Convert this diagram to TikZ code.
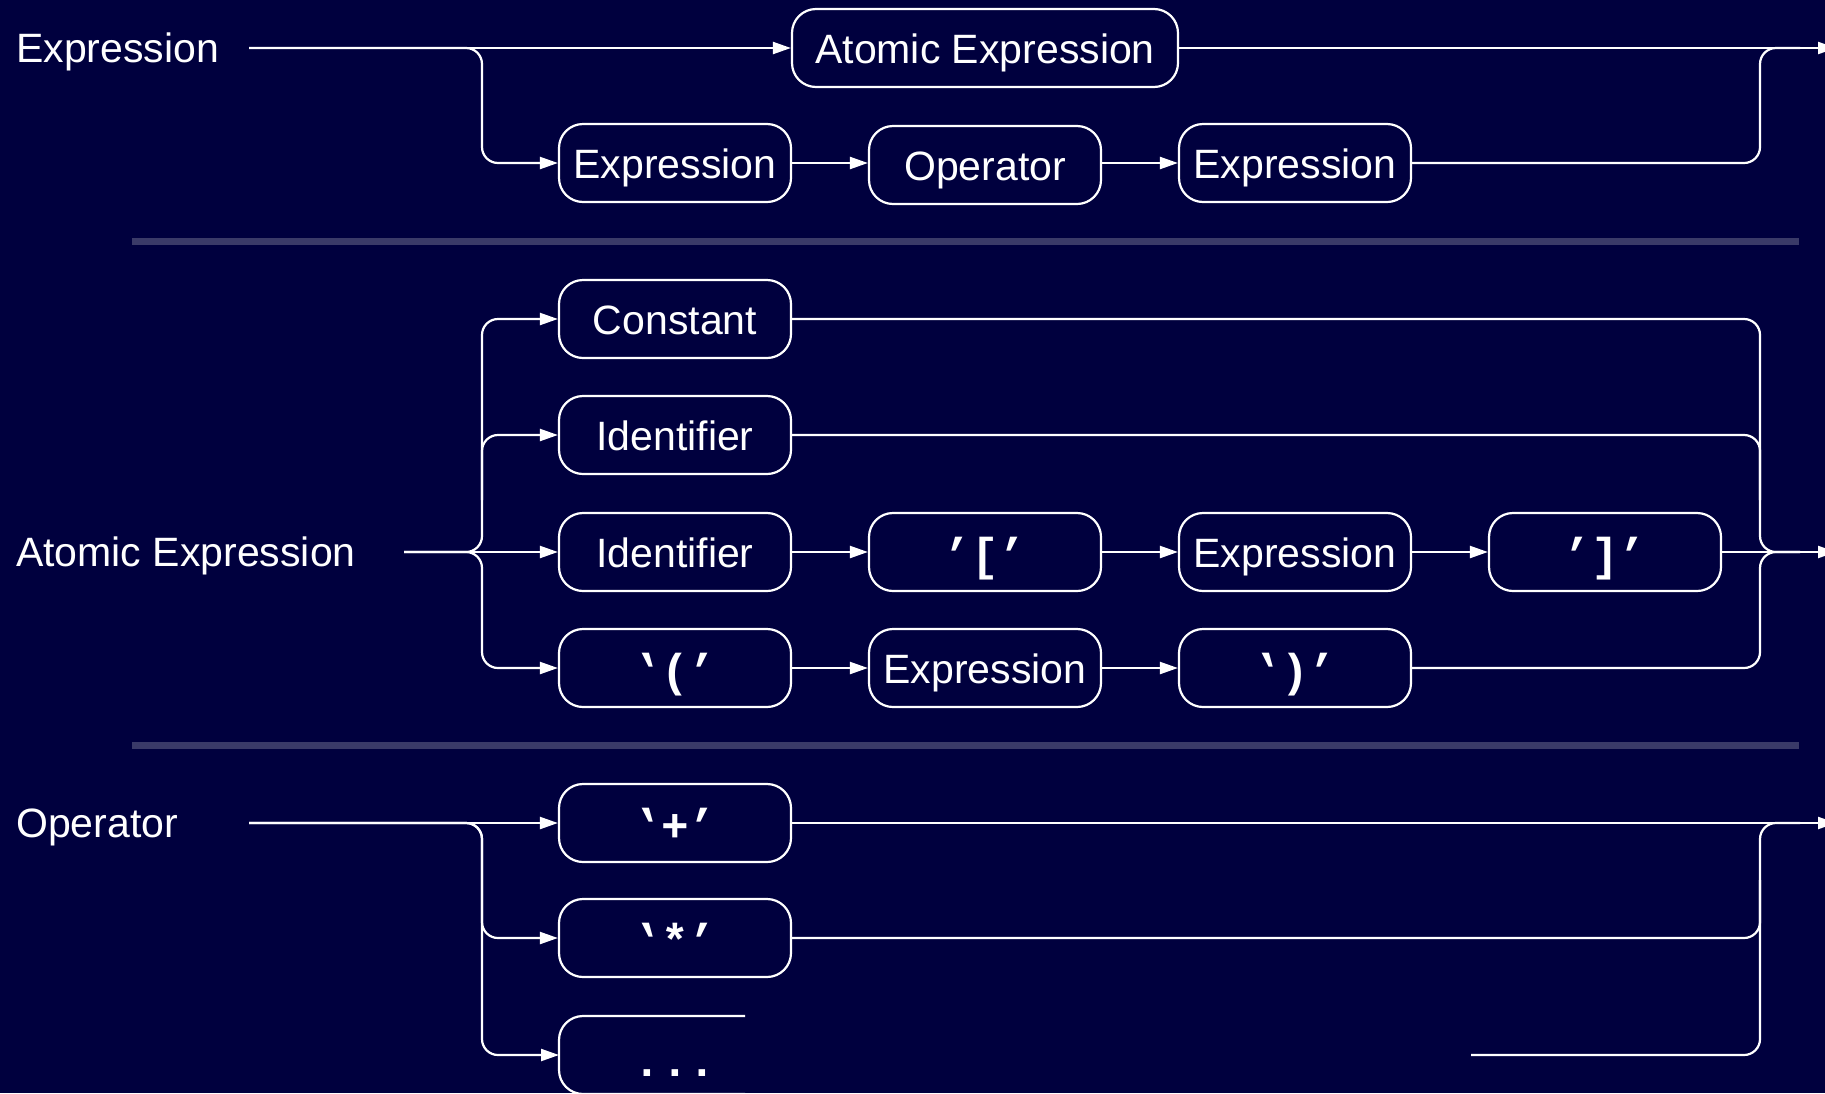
\documentclass[tikz,border=0pt]{standalone}
\usepackage{fontspec}
\usepackage{graphicx}
\setmainfont{Liberation Sans}
\newfontfamily\monof{Liberation Mono}
\usetikzlibrary{arrows.meta}
\definecolor{bg}{RGB}{0,0,62}
\definecolor{sepc}{RGB}{58,58,104}
\newcommand{\myopenq}{\reflectbox{’}}
\begin{document}
\begin{tikzpicture}[x=1pt,y=-1pt,
  conn/.style={draw=white,line width=2.2pt},
  arr/.style={conn,-{Triangle[length=18pt,width=12pt]}},
  rc/.style={rounded corners=16pt},
  box/.style={draw=white,line width=2.2pt,rounded corners=24pt,fill=bg,minimum width=232pt,minimum height=78pt,inner sep=0pt,text height=30pt,text depth=0pt,text=white},
  sans/.style={font=\fontsize{41}{48}\selectfont},
  mono/.style={font=\monof\bfseries\fontsize{46}{50}\selectfont,text height=36pt},
  lbl/.style={text=white,inner sep=0pt,font=\fontsize{41}{48}\selectfont}
]
\useasboundingbox (0,0) rectangle (1825,1093);
\fill[bg] (0,0) rectangle (1825,1093);
\fill[sepc] (132,238) rectangle (1799,245);
\fill[sepc] (132,742) rectangle (1799,749);

% ---------- Expression
\node[lbl,anchor=base west] (l1) at (16,62) {Expression};
\coordinate (s1) at (249,48);
\node[box,sans,minimum width=386pt] (ae) at (985,48) {Atomic Expression};
\node[box,sans] (e1) at (675,163) {Expression};
\node[box,sans] (op) at (985,165) {Operator};
\node[box,sans] (e3) at (1295,163) {Expression};
\coordinate (t1) at (1836,48);
\coordinate (j1) at (1800,48);
\draw[arr] (s1) -- (ae.west);
\draw[arr,rc] (s1) -- (482,48) -- (482,163) -- (e1.west);
\draw[arr] (e1.east) -- (e1.east -| op.west);
\draw[arr] (op.east |- e3.west) -- (e3.west);
\draw[arr] (ae.east) -- (t1);
\draw[conn,rc] (e3.east) -- (1760,163) -- (1760,48) -- (j1);

% ---------- Atomic Expression
\node[lbl,anchor=base west] (l2) at (16,566) {Atomic Expression};
\coordinate (s2) at (404,552);
\node[box,sans] (c) at (675,319) {Constant};
\node[box,sans] (i1) at (675,435) {Identifier};
\node[box,sans] (i2) at (675,552) {Identifier};
\node[box,mono] (lb) at (985,552) {’[’};
\node[box,sans] (e4) at (1295,552) {Expression};
\node[box,mono] (rb) at (1605,552) {’]’};
\node[box,mono] (lp) at (675,668) {\myopenq(’};
\node[box,sans] (e5) at (985,668) {Expression};
\node[box,mono] (rp) at (1295,668) {\myopenq)’};
\coordinate (t2) at (1836,552);
\coordinate (j2) at (1800,552);
\coordinate (v2) at (482,500);
\coordinate (w2) at (1760,500);
\draw[arr] (s2) -- (i2.west);
\draw[arr,rc] (s2) -- (482,552) -- (482,319) -- (c.west);
\draw[arr,rc] (s2) -- (482,552) -- (482,668) -- (lp.west);
\draw[arr,rc] (v2) -- (482,435) -- (i1.west);
\draw[arr] (i2.east) -- (lb.west);
\draw[arr] (lb.east) -- (e4.west);
\draw[arr] (e4.east) -- (rb.west);
\draw[arr] (lp.east) -- (e5.west);
\draw[arr] (e5.east) -- (rp.west);
\draw[arr] (rb.east) -- (t2);
\draw[conn,rc] (c.east) -- (1760,319) -- (1760,552) -- (j2);
\draw[conn,rc] (i1.east) -- (1760,435) -- (w2);
\draw[conn,rc] (rp.east) -- (1760,668) -- (1760,552) -- (j2);

% ---------- Operator
\node[lbl,anchor=base west] (l3) at (16,837) {Operator};
\coordinate (s3) at (249,823);
\node[box,mono] (pl) at (675,823) {\myopenq+’};
\node[box,mono] (st) at (675,938) {\myopenq*’};
\coordinate (dw) at (559,1055);
\draw[conn,rounded corners=24pt] (745,1016) -- (559,1016) -- (559,1094) -- (745,1094);
\node[text=white,mono,inner sep=0pt,anchor=base] (dt) at (675,1076) {...};
\coordinate (dx) at (1471,1055);
\coordinate (t3) at (1836,823);
\coordinate (j3) at (1800,823);
\coordinate (w3) at (1760,880);
\draw[arr] (s3) -- (pl.west);
\draw[arr,rc] (s3) -- (482,823) -- (482,938) -- (st.west);
\draw[arr,rc] (s3) -- (482,823) -- (482,1055) -- (dw);
\draw[arr] (pl.east) -- (t3);
\draw[conn,rc] (st.east) -- (1760,938) -- (w3);
\draw[conn,rc] (dx) -- (1760,1055) -- (1760,823) -- (j3);
\end{tikzpicture}
\end{document}
